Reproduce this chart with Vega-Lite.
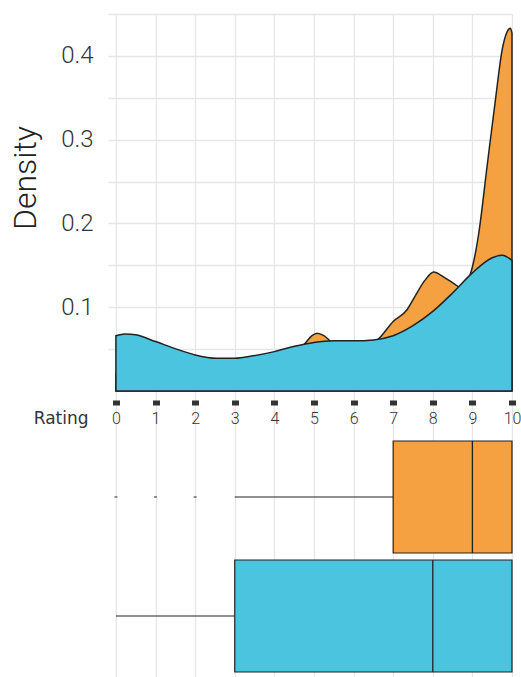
{
  "$schema": "https://vega.github.io/schema/vega-lite/v6.json",
  "autosize": {"type": "none"},
  "padding": {"left": 108, "top": 14, "right": 9, "bottom": 0},
  "width": 404,
  "height": 663,
  "background": "white",
  "config": {"view": {"stroke": null}, "font": "Roboto"},
  "datasets": {
    "orange": [
      {"rating": 0, "density": 0.02},
      {"rating": 1, "density": 0.025},
      {"rating": 2, "density": 0.025},
      {"rating": 3, "density": 0.03},
      {"rating": 4, "density": 0.038},
      {"rating": 4.5, "density": 0.045},
      {"rating": 4.76, "density": 0.056},
      {"rating": 4.95, "density": 0.066},
      {"rating": 5.08, "density": 0.069},
      {"rating": 5.25, "density": 0.066},
      {"rating": 5.43, "density": 0.059},
      {"rating": 5.7, "density": 0.053},
      {"rating": 6, "density": 0.052},
      {"rating": 6.35, "density": 0.055},
      {"rating": 6.6, "density": 0.061},
      {"rating": 7, "density": 0.083},
      {"rating": 7.35, "density": 0.097},
      {"rating": 7.55, "density": 0.113},
      {"rating": 7.8, "density": 0.132},
      {"rating": 8.02, "density": 0.142},
      {"rating": 8.28, "density": 0.136},
      {"rating": 8.57, "density": 0.127},
      {"rating": 8.75, "density": 0.122},
      {"rating": 8.9, "density": 0.133},
      {"rating": 9, "density": 0.148},
      {"rating": 9.16, "density": 0.188},
      {"rating": 9.37, "density": 0.268},
      {"rating": 9.58, "density": 0.347},
      {"rating": 9.75, "density": 0.407},
      {"rating": 9.86, "density": 0.427},
      {"rating": 9.96, "density": 0.433},
      {"rating": 10, "density": 0.427}
    ],
    "cyan": [
      {"rating": 0, "density": 0.066},
      {"rating": 0.23, "density": 0.068},
      {"rating": 0.5, "density": 0.067},
      {"rating": 1, "density": 0.059},
      {"rating": 1.53, "density": 0.05},
      {"rating": 2, "density": 0.043},
      {"rating": 2.55, "density": 0.039},
      {"rating": 3, "density": 0.039},
      {"rating": 3.47, "density": 0.042},
      {"rating": 4, "density": 0.047},
      {"rating": 4.48, "density": 0.053},
      {"rating": 5, "density": 0.058},
      {"rating": 5.49, "density": 0.06},
      {"rating": 6, "density": 0.06},
      {"rating": 6.5, "density": 0.061},
      {"rating": 7, "density": 0.066},
      {"rating": 7.5, "density": 0.078},
      {"rating": 8, "density": 0.095},
      {"rating": 8.5, "density": 0.117},
      {"rating": 9, "density": 0.141},
      {"rating": 9.5, "density": 0.159},
      {"rating": 9.75, "density": 0.162},
      {"rating": 10, "density": 0.156}
    ],
    "box": [
      {"group": "Group A", "lower": 3, "q1": 7, "median": 9, "q3": 10, "upper": 10},
      {"group": "Group B", "lower": 0, "q1": 3, "median": 8, "q3": 10, "upper": 10}
    ],
    "outliers": [
      {"group": "Group A", "rating": 0},
      {"group": "Group A", "rating": 1},
      {"group": "Group A", "rating": 2}
    ]
  },
  "layer": [
    {
      "data": {"name": "orange"},
      "mark": {"type": "area", "interpolate": "monotone", "fill": "#F5A041", "fillOpacity": 1, "stroke": "#222222", "strokeWidth": 1.5},
      "encoding": {
        "x": {
          "field": "rating", "type": "quantitative",
          "scale": {"domain": [-0.2, 10], "nice": false, "zero": false},
          "axis": {
            "values": [0, 1, 2, 3, 4, 5, 6, 7, 8, 9, 10],
            "grid": true, "gridColor": "#E6E6E6", "gridWidth": 1.3,
            "domain": false,
            "ticks": true, "tickSize": 5, "tickWidth": 7, "tickColor": "#333333",
            "offset": -277,
            "labelFont": "Roboto", "labelFontSize": 16, "labelFontWeight": 300, "labelColor": "#333333",
            "labelBaseline": "alphabetic", "labelPadding": 18, "labelAngle": 0,
            "labelFlush": false, "labelOverlap": false,
            "title": "Rating", "titleX": -20, "titleY": 23, "titleAlign": "right",
            "titleBaseline": "alphabetic", "titleFont": "DejaVu Sans", "titleFontSize": 17,
            "titleFontWeight": "normal", "titleColor": "#333333"
          }
        },
        "y": {
          "field": "density", "type": "quantitative",
          "scale": {"domain": [-0.3414, 0.45], "nice": false, "zero": false},
          "axis": {
            "values": [0.05, 0.1, 0.15, 0.2, 0.25, 0.3, 0.35, 0.4, 0.45],
            "grid": true, "gridColor": "#E6E6E6", "gridWidth": 1.3,
            "ticks": false, "domain": false,
            "labelExpr": "round(datum.value*100) % 10 == 0 ? format(datum.value, '.1f') : ''",
            "labelFont": "Roboto", "labelFontSize": 24, "labelFontWeight": 300, "labelColor": "#333333",
            "labelPadding": 15, "labelOverlap": false, "labelFlush": false,
            "title": "Density", "titleFont": "Roboto", "titleFontSize": 32, "titleFontWeight": 300,
            "titleColor": "#222222", "titleX": -73, "titleY": 163.5, "titleAngle": 270,
            "titleAlign": "center", "titleBaseline": "alphabetic"
          }
        },
        "y2": {"datum": 0}
      }
    },
    {
      "data": {"name": "cyan"},
      "mark": {"type": "area", "interpolate": "monotone", "fill": "#4BC4E0", "fillOpacity": 1, "stroke": "#222222", "strokeWidth": 1.5},
      "encoding": {
        "x": {"field": "rating", "type": "quantitative", "scale": {"domain": [-0.2, 10], "nice": false, "zero": false}},
        "y": {"field": "density", "type": "quantitative", "scale": {"domain": [-0.3414, 0.45], "nice": false, "zero": false}, "axis": null},
        "y2": {"datum": 0}
      }
    },
    {
      "data": {"name": "box"},
      "layer": [
        {
          "mark": {"type": "rule", "color": "#222222", "strokeWidth": 1.2},
          "encoding": {
            "x": {"field": "lower", "type": "quantitative", "scale": {"domain": [-0.2, 10], "nice": false, "zero": false}},
            "x2": {"field": "q1"},
            "y": {"field": "group", "type": "nominal", "scale": {"domain": ["Group A", "Group B"], "range": [423.5, 661.5], "paddingInner": 0.0588, "paddingOuter": 0.0294}, "axis": null}
          }
        },
        {
          "mark": {"type": "bar", "stroke": "#222222", "strokeWidth": 1.2, "fillOpacity": 1},
          "encoding": {
            "x": {"field": "q1", "type": "quantitative", "scale": {"domain": [-0.2, 10], "nice": false, "zero": false}},
            "x2": {"field": "q3"},
            "y": {"field": "group", "type": "nominal", "axis": null},
            "color": {"field": "group", "type": "nominal", "scale": {"domain": ["Group A", "Group B"], "range": ["#F5A041", "#4BC4E0"]}, "legend": null}
          }
        },
        {
          "mark": {"type": "tick", "color": "#222222", "thickness": 1.3, "size": 112, "opacity": 1},
          "encoding": {
            "x": {"field": "median", "type": "quantitative", "scale": {"domain": [-0.2, 10], "nice": false, "zero": false}},
            "y": {"field": "group", "type": "nominal", "axis": null}
          }
        },
        {
          "data": {"name": "outliers"},
          "mark": {"type": "point", "shape": "M -1 0 L 1 0", "size": 9, "stroke": "#222222", "strokeWidth": 1, "filled": false, "opacity": 1},
          "encoding": {
            "x": {"field": "rating", "type": "quantitative", "scale": {"domain": [-0.2, 10], "nice": false, "zero": false}},
            "y": {"field": "group", "type": "nominal", "axis": null}
          }
        }
      ]
    }
  ],
  "resolve": {"scale": {"y": "independent"}, "axis": {"y": "independent"}}
}
